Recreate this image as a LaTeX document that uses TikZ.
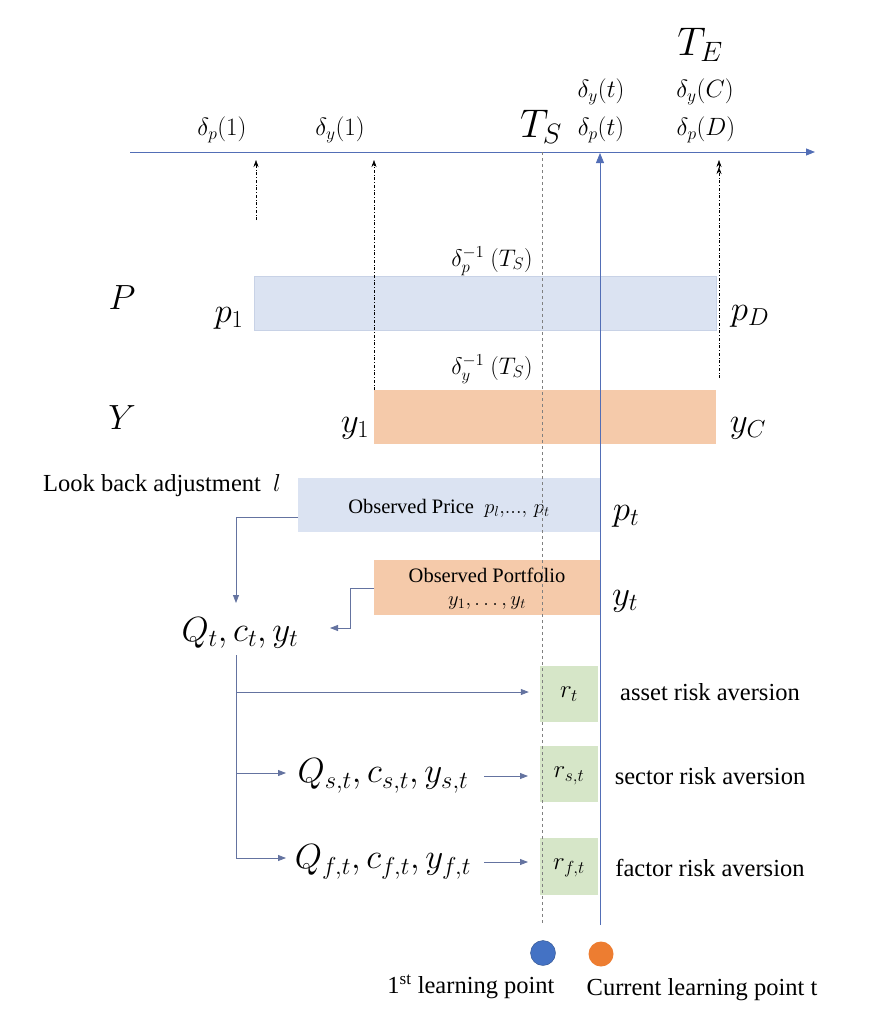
\RequirePackage{fix-cm}
\documentclass[tikz,border=0pt]{standalone}
\usepackage{fontspec}
\setmainfont{Liberation Serif}
\usetikzlibrary{arrows.meta}
\definecolor{axisblue}{RGB}{82,110,182}
\definecolor{linegrey}{RGB}{100,115,160}
\definecolor{pfill}{RGB}{219,227,242}
\definecolor{pdraw}{RGB}{200,210,230}
\definecolor{yfill}{RGB}{245,202,170}
\definecolor{gfill}{RGB}{214,230,200}
\definecolor{cblue}{RGB}{68,114,196}
\definecolor{corange}{RGB}{237,125,49}
\tikzset{
  axisline/.style={draw=axisblue, line width=0.9pt, -{Triangle[length=9pt,width=7pt]}},
  conn/.style={draw=linegrey, line width=0.8pt, -{Triangle[length=8pt,width=6pt]}},
  plain/.style={draw=linegrey, line width=0.8pt},
  ddarrow/.style={draw=black, line width=0.5pt, dash dot, -{Stealth[length=7pt,width=5pt]}},
  pbar/.style={fill=pfill, draw=pdraw, line width=0.6pt, inner sep=0pt},
  ybar/.style={fill=yfill, inner sep=0pt},
  gbox/.style={fill=gfill, inner sep=0pt, minimum width=58pt, minimum height=56pt},
  msmall/.style={font=\fontsize{25}{29}\selectfont, inner sep=1pt},
  minv/.style={font=\fontsize{24}{28}\selectfont, inner sep=1pt},
  mbig/.style={font=\fontsize{35}{40}\selectfont, inner sep=1pt},
  mhuge/.style={font=\fontsize{40}{46}\selectfont, inner sep=1pt},
  rlbl/.style={font=\fontsize{25}{29}\selectfont, inner sep=1pt},
  lbl/.style={font=\fontsize{24.5}{28}\selectfont, inner sep=1pt},
  boxtxt/.style={font=\fontsize{20.5}{24}\selectfont, align=center}
}
\begin{document}
\begin{tikzpicture}[x=1pt,y=-1pt]
\useasboundingbox (0,0) rectangle (886,1030);

% bars and boxes
\node[pbar, minimum width=462pt, minimum height=54pt] (pbar) at (485,303) {};
\node[ybar, minimum width=342pt, minimum height=54pt] (ybar) at (545,417) {};
\node[pbar, draw=none, minimum width=302pt, minimum height=54pt] (obsP) at (449,505) {};
\node[boxtxt] (obsPt) at (449,508) {Observed Price\ \ $p_l,\!...,\,p_t$};
\node[ybar, minimum width=226pt, minimum height=55pt] (obsY) at (487,587) {};
\node[boxtxt] (obsYt) at (487,589) {Observed Portfolio\\[-1pt] $y_1,\dots,y_t$};
\node[gbox] (rt) at (569,694) {};
\node[gbox] (rs) at (569,774) {};
\node[gbox, minimum height=57pt] (rf) at (569,866) {};
\node[rlbl] at (569,694) {$r_t$};
\node[rlbl] at (569,776) {$r_{s,t}$};
\node[rlbl] at (569,868) {$r_{f,t}$};

% axis
\coordinate (ax0) at (130,152);
\coordinate (ax1) at (815,152);
\draw[axisline] (ax0) -- (ax1);

% vertical lines
\coordinate (tsTop) at (542,152);
\coordinate (tsBot) at (542,925);
\draw[draw=gray, line width=0.5pt, dashed] (tsTop) -- (tsBot);
\coordinate (curBot) at (600,925);
\coordinate (curTop) at (600,153);
\draw[draw=axisblue, line width=0.8pt, -{Triangle[length=10pt,width=8pt]}] (curBot) -- (curTop);

\coordinate (a1s) at (256,220);
\coordinate (a1e) at (256,160);
\draw[ddarrow] (a1s) -- (a1e);
\coordinate (a2s) at (374,390);
\coordinate (a2e) at (374,160);
\draw[ddarrow] (a2s) -- (a2e);
\coordinate (a3s) at (719,378);
\coordinate (a3e) at (719,160);
\draw[draw=black, line width=0.5pt, dash dot, -{Stealth[length=7pt,width=5pt] Stealth[length=7pt,width=5pt]}] (a3s) -- (a3e);

% axis labels
\node[msmall] (dp1) at (222,130) {$\delta_p(1)$};
\node[msmall] (dy1) at (340,130) {$\delta_y(1)$};
\node[mhuge] (TS) at (541,127) {$T_S$};
\node[msmall] (dyt) at (601,92) {$\delta_y(t)$};
\node[msmall] (dpt) at (601,130) {$\delta_p(t)$};
\node[msmall] (dyC) at (705,92) {$\delta_y(C)$};
\node[msmall] (dpD) at (706,130) {$\delta_p(D)$};
\node[mhuge] (TE) at (700,45) {$T_E$};

% bar labels
\node[mbig] (P) at (122,298) {$P$};
\node[mbig] (Y) at (122,418) {$Y$};
\node[mbig] (p1) at (229,318) {$p_1$};
\node[mbig] (pD) at (750,316) {$p_D$};
\node[mbig] (y1) at (355,428) {$y_1$};
\node[mbig] (yC) at (748,428) {$y_C$};
\node[minv] (dpinv) at (492,261) {$\delta_p^{-1}\ (T_S)$};
\node[minv] (dyinv) at (492,369) {$\delta_y^{-1}\ (T_S)$};
\node[mbig] (pt) at (626,516) {$p_t$};
\node[mbig] (yt) at (625,601) {$y_t$};

% look back
\node[lbl, anchor=west] (lb) at (42,486) {Look back adjustment\ \ $l$};

% Q nodes
\node[mbig] (qt) at (240,633) {$Q_t, c_t, y_t$};
\node[mbig] (qs) at (383,776) {$Q_{s,t}, c_{s,t}, y_{s,t}$};
\node[mbig] (qf) at (383,862) {$Q_{f,t}, c_{f,t}, y_{f,t}$};

% connectors
\coordinate (pOut) at (298,517);
\coordinate (qtIn) at (236,603);
\draw[conn] (pOut) -| (qtIn);
\coordinate (yOut) at (374,588);
\coordinate (qtIn2) at (330,628);
\draw[conn] (yOut) -- (350,588) |- (qtIn2);
\coordinate (qtOut) at (236,655);
\coordinate (b1) at (236,692);
\coordinate (b2) at (236,773);
\coordinate (b3) at (236,858);
\draw[plain] (qtOut) -- (b3);
\draw[conn, shorten >=11pt] (b1) -- (rt.west |- b1);
\draw[conn] (b2) -- (286,773);
\draw[conn] (b3) -- (286,858);
\draw[conn] (484,776) -- (528,776);
\draw[conn] (484,862) -- (528,862);

% risk labels
\node[lbl] (ra) at (710,692) {asset risk aversion};
\node[lbl] (rsl) at (710,776) {sector risk aversion};
\node[lbl] (rfl) at (710,868) {factor risk aversion};

% learning points
\node[circle, fill=cblue, draw=cblue!70!black, line width=0.4pt, minimum size=25pt, inner sep=0pt] (c1) at (543,953) {};
\node[circle, fill=corange, minimum size=25pt, inner sep=0pt] (c2) at (601,954) {};
\node[lbl] (l1) at (471,987) {1\textsuperscript{st} learning point};
\node[lbl] (l2) at (702,990) {Current learning point t};
\end{tikzpicture}
\end{document}
